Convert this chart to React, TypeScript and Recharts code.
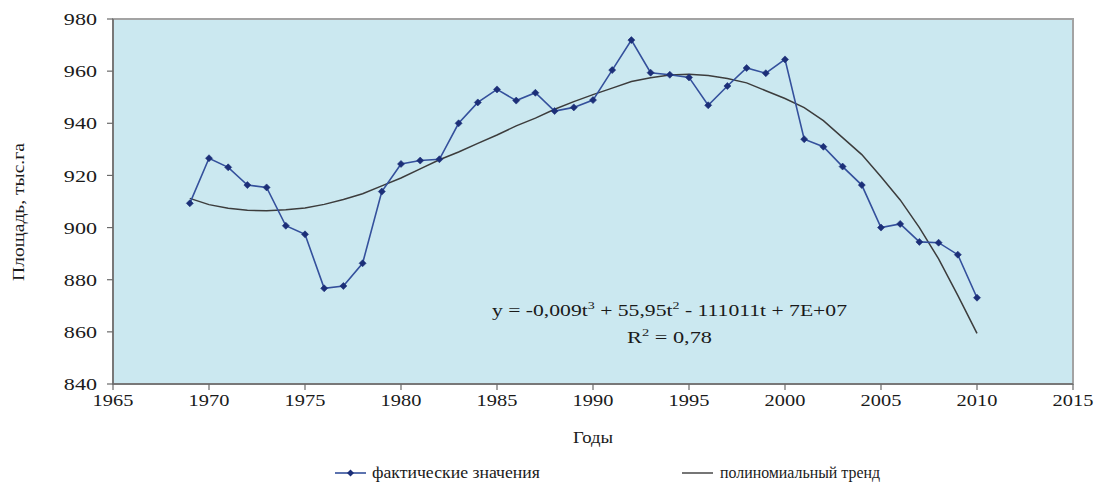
import React from 'react';
import {
  LineChart,
  Line,
  XAxis,
  YAxis,
  CartesianGrid,
  ReferenceArea,
  Legend,
  Customized,
} from 'recharts';

// Годы наблюдений
const years = [
  1969, 1970, 1971, 1972, 1973, 1974, 1975, 1976, 1977, 1978,
  1979, 1980, 1981, 1982, 1983, 1984, 1985, 1986, 1987, 1988,
  1989, 1990, 1991, 1992, 1993, 1994, 1995, 1996, 1997, 1998,
  1999, 2000, 2001, 2002, 2003, 2004, 2005, 2006, 2007, 2008,
  2009, 2010,
];

// Площадь, тыс. га — фактические значения
const actual = [
  909.3, 926.6, 923.1, 916.3, 915.4, 900.7, 897.4, 876.7, 877.6, 886.3,
  913.8, 924.4, 925.7, 926.2, 940.0, 948.0, 953.0, 948.7, 951.7, 944.7,
  946.1, 948.9, 960.4, 971.9, 959.4, 958.6, 957.6, 946.9, 954.3, 961.2,
  959.2, 964.5, 933.9, 931.0, 923.4, 916.3, 900.0, 901.4, 894.5, 894.2,
  889.6, 873.1,
];

// Полиномиальный тренд (3-я степень)
const trend = [
  911.2, 908.8, 907.4, 906.6, 906.5, 906.8, 907.5, 908.9, 910.8, 913.0,
  916.0, 919.0, 922.5, 926.0, 929.0, 932.3, 935.5, 939.0, 942.0, 945.4,
  948.3, 951.0, 953.5, 956.0, 957.5, 958.5, 958.8, 958.3, 957.2, 955.5,
  952.5, 949.5, 946.0, 941.0, 934.5, 928.0, 919.5, 910.6, 900.0, 888.0,
  874.0, 859.4,
];

const xTicks = [1965, 1970, 1975, 1980, 1985, 1990, 1995, 2000, 2005, 2010, 2015];
const yTicks = [840, 860, 880, 900, 920, 940, 960, 980];

const seriesName = 'фактические значения';
const trendName = 'полиномиальный тренд';
const xTitle = 'Годы';
const yTitle = 'Площадь, тыс.га';
const equationParts = ['y = -0,009t', '3', ' + 55,95t', '2', ' - 111011t + 7E+07'];
const r2Parts = ['R', '2', ' = 0,78'];

const data = years.map((year, i) => ({ year, actual: actual[i], trend: trend[i] }));

const FONT = "'Liberation Serif', 'Times New Roman', serif";
const FONT_STYLE = { fontFamily: FONT };
const TEXT = '#1a1a1a';
const SERIES_LINE = '#34509c';
const SERIES_MARK = '#1c2f78';
const TREND_LINE = '#3c3c3c';
const PLOT_BG = '#cbe8f0';
const AXIS = '#6a6a6a';

const Diamond = (props: any) => {
  const { cx, cy } = props;
  if (cx == null || cy == null) return null;
  const r = 3.5;
  return (
    <path
      d={`M${cx},${cy - r} L${cx + r},${cy} L${cx},${cy + r} L${cx - r},${cy} Z`}
      fill={SERIES_MARK}
      stroke={SERIES_MARK}
      strokeWidth={0.6}
    />
  );
};

const YTick = (props: any) => {
  const { x, y, payload } = props;
  return (
    <g transform={`translate(${x},${y})`}>
      <text
        transform="scale(1.3,1)"
        textAnchor="end"
        dy="0.36em"
        style={FONT_STYLE}
        fontSize={17}
        fill={TEXT}
      >
        {payload.value}
      </text>
    </g>
  );
};

const XTick = (props: any) => {
  const { x, y, payload } = props;
  return (
    <g transform={`translate(${x},${y})`}>
      <text
        transform="scale(1.2,1)"
        textAnchor="middle"
        dy="0.8em"
        style={FONT_STYLE}
        fontSize={17}
        fill={TEXT}
      >
        {payload.value}
      </text>
    </g>
  );
};

// Подписи осей и уравнение тренда
const Annotations = () => (
  <g fill={TEXT}>
    <text
      x={0}
      y={0}
      transform="translate(24,212) rotate(-90) scale(1.15,1)"
      textAnchor="middle"
      fontSize={17}
      style={FONT_STYLE}
    >
      {yTitle}
    </text>
    <text x={593} y={443} textAnchor="middle" fontSize={17} textLength={40} lengthAdjust="spacingAndGlyphs" style={FONT_STYLE}>
      {xTitle}
    </text>
    <text x={492} y={316} fontSize={17} textLength={355} lengthAdjust="spacingAndGlyphs" style={FONT_STYLE}>
      <tspan>{equationParts[0]}</tspan>
      <tspan dy={-7} fontSize={11}>{equationParts[1]}</tspan>
      <tspan dy={7}>{equationParts[2]}</tspan>
      <tspan dy={-7} fontSize={11}>{equationParts[3]}</tspan>
      <tspan dy={7}>{equationParts[4]}</tspan>
    </text>
    <text x={627} y={343} fontSize={17} textLength={85} lengthAdjust="spacingAndGlyphs" style={FONT_STYLE}>
      <tspan>{r2Parts[0]}</tspan>
      <tspan dy={-7} fontSize={11}>{r2Parts[1]}</tspan>
      <tspan dy={7}>{r2Parts[2]}</tspan>
    </text>
  </g>
);

const LegendContent = () => (
  <svg width={1096} height={24} style={{ display: 'block' }}>
    <g fill={TEXT}>
      <line x1={335} y1={12} x2={366} y2={12} stroke={SERIES_LINE} strokeWidth={1.6} />
      <path d="M350.5,8.5 L354,12 L350.5,15.5 L347,12 Z" fill={SERIES_MARK} />
      <text x={372} y={17} fontSize={16} textLength={168} lengthAdjust="spacingAndGlyphs" style={FONT_STYLE}>
        {seriesName}
      </text>
      <line x1={682} y1={12} x2={713} y2={12} stroke={TREND_LINE} strokeWidth={1.4} />
      <text x={720} y={17} fontSize={16} textLength={160} lengthAdjust="spacingAndGlyphs" style={FONT_STYLE}>
        {trendName}
      </text>
    </g>
  </svg>
);

export default function App() {
  return (
    <div style={{ position: 'absolute', left: 0, top: 0, width: 1096, height: 486, background: '#fff' }}>
      <LineChart
        width={1096}
        height={486}
        data={data}
        margin={{ top: 19, right: 23, bottom: 0, left: 0 }}
      >
        <CartesianGrid fill={PLOT_BG} horizontal={false} vertical={false} />
        <ReferenceArea
          x1={1965}
          x2={2015}
          y1={840}
          y2={980}
          fill="none"
          fillOpacity={0}
          stroke="#a3a3a3"
          strokeWidth={2}
        />
        <XAxis
          dataKey="year"
          type="number"
          domain={[1965, 2015]}
          ticks={xTicks}
          interval={0}
          height={102}
          tickSize={6}
          tickMargin={2}
          axisLine={{ stroke: AXIS, strokeWidth: 1.5 }}
          tickLine={{ stroke: AXIS, strokeWidth: 1.2 }}
          tick={<XTick />}
        />
        <YAxis
          type="number"
          domain={[840, 980]}
          ticks={yTicks}
          interval={0}
          width={113}
          tickSize={6}
          tickMargin={10}
          axisLine={{ stroke: AXIS, strokeWidth: 1.5 }}
          tickLine={{ stroke: AXIS, strokeWidth: 1.2 }}
          tick={<YTick />}
        />
        <Line
          dataKey="trend"
          name={trendName}
          type="linear"
          stroke={TREND_LINE}
          strokeWidth={1.5}
          dot={false}
          activeDot={false}
          isAnimationActive={false}
        />
        <Line
          dataKey="actual"
          name={seriesName}
          type="linear"
          stroke={SERIES_LINE}
          strokeWidth={1.6}
          dot={<Diamond />}
          activeDot={false}
          isAnimationActive={false}
        />
        <Customized component={Annotations} />
        <Legend
          layout="horizontal"
          verticalAlign="middle"
          align="center"
          content={<LegendContent />}
          wrapperStyle={{ top: 461, left: 0, width: 1096, height: 24 }}
        />
      </LineChart>
    </div>
  );
}
